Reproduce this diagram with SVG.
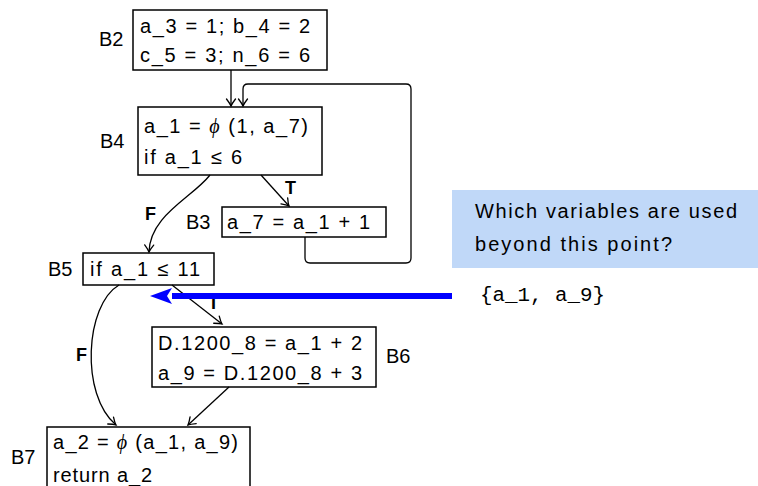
<svg xmlns="http://www.w3.org/2000/svg" width="758" height="486" viewBox="0 0 758 486">
<defs>
<style>
.box{fill:#fff;stroke:#000;stroke-width:1.5}
.t{font-family:"Liberation Sans",Arial,sans-serif;font-size:20px;fill:#000}
.lbl{font-family:"Liberation Sans",Arial,sans-serif;font-size:20px;fill:#000}
.b{font-family:"Liberation Sans",Arial,sans-serif;font-size:18px;font-weight:bold;fill:#000}
.e{fill:none;stroke:#000;stroke-width:1.3}
.phi{font-family:"Liberation Serif",serif;font-style:italic}
</style>
<marker id="ah" viewBox="-10 -6 12 12" markerWidth="12" markerHeight="12" refX="0" refY="0" orient="auto" markerUnits="userSpaceOnUse">
<path d="M-7,-4.5 Q-2.5,-1 0,0 Q-2.5,1 -7,4.5" fill="none" stroke="#000" stroke-width="1.3" stroke-linecap="round"/>
</marker>
<marker id="bh" viewBox="0 0 22 16" markerWidth="22" markerHeight="16" refX="0" refY="8" orient="auto" markerUnits="userSpaceOnUse">
<path d="M0,0 L22,8 L0,16 L5,8 Z" fill="#0000ff"/>
</marker>
</defs>

<rect x="452" y="190" width="306" height="78" fill="#c0d8f8"/>
<text class="t" x="475" y="218" textLength="262" lengthAdjust="spacing">Which variables are used</text>
<text class="t" x="475" y="251" textLength="197" lengthAdjust="spacing">beyond this point?</text>
<text x="480" y="301" font-family="Liberation Mono,monospace" font-size="20" textLength="125" lengthAdjust="spacingAndGlyphs">{a_1, a_9}</text>

<g id="B2">
<rect class="box" x="133" y="10" width="194" height="60"/>
<text class="lbl" x="99" y="46">B2</text>
<text class="t" x="140" y="33" textLength="170" lengthAdjust="spacing">a_3 = 1; b_4 = 2</text>
<text class="t" x="140" y="62" textLength="170" lengthAdjust="spacing">c_5 = 3; n_6 = 6</text>
</g>

<g id="B4">
<rect class="box" x="138" y="107" width="184" height="68"/>
<text class="lbl" x="100" y="148">B4</text>
<text class="t" x="144" y="133" textLength="164" lengthAdjust="spacing">a_1 = <tspan class="phi">ϕ</tspan> (1, a_7)</text>
<text class="t" x="144" y="164" textLength="98" lengthAdjust="spacing">if a_1 ≤ 6</text>
</g>

<g id="B3">
<rect class="box" x="222" y="207" width="164" height="30"/>
<text class="lbl" x="186" y="229">B3</text>
<text class="t" x="227" y="229" textLength="143" lengthAdjust="spacing">a_7 = a_1 + 1</text>
</g>

<g id="B5">
<rect class="box" x="83" y="253" width="131" height="32"/>
<text class="lbl" x="48" y="276">B5</text>
<text class="t" x="90" y="276" textLength="110" lengthAdjust="spacing">if a_1 ≤ 11</text>
</g>

<g id="B6">
<rect class="box" x="152" y="327" width="224" height="60"/>
<text class="lbl" x="386" y="363">B6</text>
<text class="t" x="158" y="350" textLength="204" lengthAdjust="spacing">D.1200_8 = a_1 + 2</text>
<text class="t" x="158" y="380" textLength="204" lengthAdjust="spacing">a_9 = D.1200_8 + 3</text>
</g>

<g id="B7">
<rect class="box" x="47" y="427" width="203" height="70"/>
<text class="lbl" x="11" y="464">B7</text>
<text class="t" x="53" y="449" textLength="185" lengthAdjust="spacing">a_2 = <tspan class="phi">ϕ</tspan> (a_1, a_9)</text>
<text class="t" x="53" y="482" textLength="99" lengthAdjust="spacing">return a_2</text>
</g>

<g id="edges">
<path class="e" d="M231,70 L231,106" marker-end="url(#ah)"/>
<path class="e" d="M305,237 L305,258 Q305,263 310,263 L406,263 Q411,263 411,258 L411,89 Q411,84 406,84 L248,84 Q243,84 243,89 L243,106" marker-end="url(#ah)"/>
<path class="e" d="M261,175 L289,206" marker-end="url(#ah)"/>
<text class="b" x="285" y="194">T</text>
<path class="e" d="M210,175 C192,198 150,215 149,252" marker-end="url(#ah)"/>
<text class="b" x="145" y="220">F</text>
<path class="e" d="M172,285 L222,324" marker-end="url(#ah)"/>
<text class="b" x="208" y="309">T</text>
<path class="e" d="M119,285 C85,305 80,395 116,425" marker-end="url(#ah)"/>
<text class="b" x="76" y="361">F</text>
<path class="e" d="M229,387 L188,425" marker-end="url(#ah)"/>
<path d="M452,296 L172,296" stroke="#0000ff" stroke-width="6" fill="none" marker-end="url(#bh)"/>
</g>
</svg>
